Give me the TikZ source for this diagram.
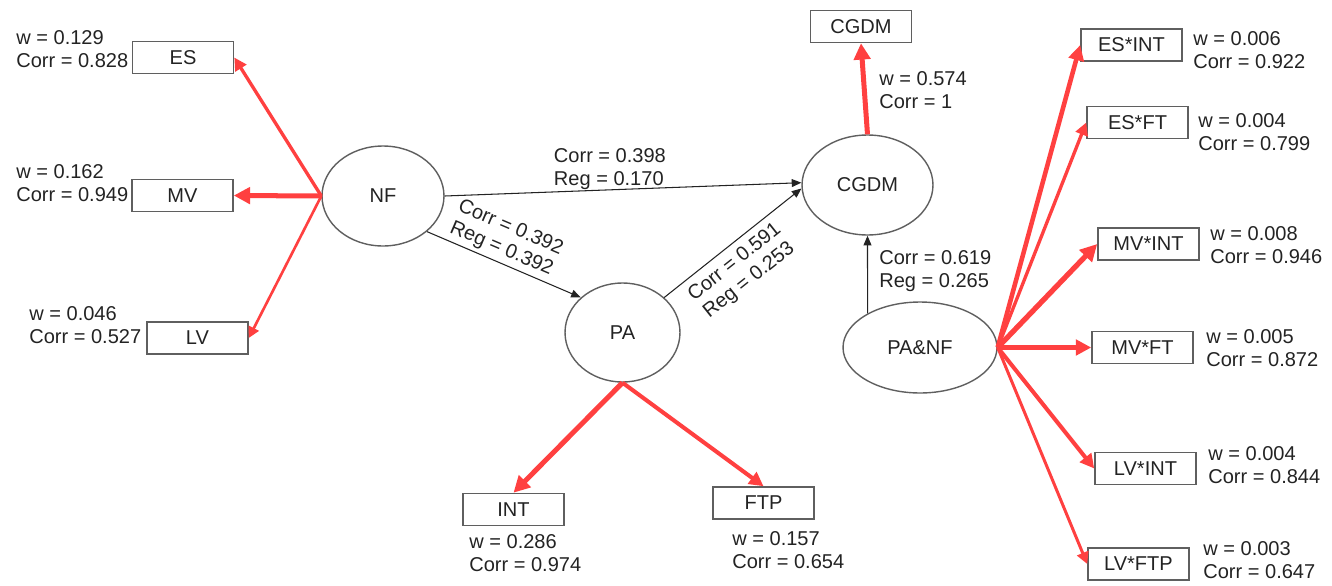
\documentclass[tikz,border=0pt]{standalone}
\usepackage{fontspec}
\setmainfont{Liberation Sans}
\usetikzlibrary{shapes.geometric,arrows.meta}
\definecolor{loadred}{RGB}{255,64,64}
\definecolor{edgegray}{RGB}{95,95,95}
\definecolor{txt}{RGB}{35,35,35}
\begin{document}
\begin{tikzpicture}[x=0.02cm,y=-0.02cm,
	every node/.style={font=\fontsize{11.4}{13.1}\selectfont, text=txt},
	lat/.style={draw=edgegray, ellipse, line width=0.8pt, inner sep=0pt},
	ind/.style={draw=edgegray, rectangle, line width=0.9pt, minimum width=2.02cm, minimum height=0.64cm, inner sep=0pt},
	lbl/.style={align=left, inner sep=0pt},
	load/.style={draw=loadred, line width=#1, -{Triangle[length=3pt 2.2,width=3pt 2.2]}},
	rel/.style={draw=txt, line width=0.6pt, -{Triangle[length=5.5pt,width=4.5pt]}}]
	\useasboundingbox (0,0) rectangle (1332,585);
	% latent variables
	\node [lat, minimum width=2.44cm, minimum height=2cm] (NF) at (383,196) {NF};
	\node [lat, minimum width=2.3cm, minimum height=1.98cm] (PA) at (622.5,332.5) {PA};
	\node [lat, minimum width=2.62cm, minimum height=2cm] (CGDM) at (867.5,185) {CGDM};
	\node [lat, minimum width=3.08cm, minimum height=1.82cm] (PANF) at (920,347.5) {PA\&NF};
	% indicators
	\node [ind] (ES) at (183,57.5) {ES};
	\node [ind] (MV) at (182.5,195.5) {MV};
	\node [ind] (LV) at (197.5,338) {LV};
	\node [ind] (INT) at (513.5,509.5) {INT};
	\node [ind] (FTP) at (763.5,503) {FTP};
	\node [ind] (CGDMbox) at (861,26.5) {CGDM};
	\node [ind] (ESINT) at (1131.5,45) {ES*INT};
	\node [ind] (ESFT) at (1137.5,122.5) {ES*FT};
	\node [ind] (MVINT) at (1148.5,244) {MV*INT};
	\node [ind] (MVFT) at (1142.5,347.5) {MV*FT};
	\node [ind] (LVINT) at (1145.5,468.5) {LV*INT};
	\node [ind] (LVFTP) at (1138.5,564) {LV*FTP};
	% weights
	\node [lbl, anchor=west] (ESlbl) at (16,49) {w = 0.129\\Corr = 0.828};
	\node [lbl, anchor=west] (MVlbl) at (16,183.5) {w = 0.162\\Corr = 0.949};
	\node [lbl, anchor=west] (LVlbl) at (29,325.5) {w = 0.046\\Corr = 0.527};
	\node [lbl, anchor=west] (INTlbl) at (469,553.5) {w = 0.286\\Corr = 0.974};
	\node [lbl, anchor=west] (FTPlbl) at (732,550) {w = 0.157\\Corr = 0.654};
	\node [lbl, anchor=west] (CGDMlbl) at (879,90.5) {w = 0.574\\Corr = 1};
	\node [lbl, anchor=west] (ESINTlbl) at (1193,50) {w = 0.006\\Corr = 0.922};
	\node [lbl, anchor=west] (ESFTlbl) at (1198,132) {w = 0.004\\Corr = 0.799};
	\node [lbl, anchor=west] (MVINTlbl) at (1210,245) {w = 0.008\\Corr = 0.946};
	\node [lbl, anchor=west] (MVFTlbl) at (1206,348.5) {w = 0.005\\Corr = 0.872};
	\node [lbl, anchor=west] (LVINTlbl) at (1208,465) {w = 0.004\\Corr = 0.844};
	\node [lbl, anchor=west] (LVFTPlbl) at (1203,560.5) {w = 0.003\\Corr = 0.647};
	\node [lbl, anchor=west] (PANFlbl) at (879,271.5) {Corr = 0.619\\Reg = 0.265};
	% loadings
	\draw [load=1.9pt] (NF.west) -- (ES.east);
	\draw [load=2.85pt] (NF.west) -- (MV.east);
	\draw [load=1.5pt] (NF.west) -- (LV.east);
	\draw [load=2.85pt] (PA.south) -- (INT.north);
	\draw [load=2.3pt] (PA.south) -- (FTP.north);
	\draw [load=2.85pt] (CGDM.north) -- (CGDMbox.south);
	\draw [load=2.6pt] (PANF.east) -- (ESINT.west);
	\draw [load=1.9pt] (PANF.east) -- (ESFT.west);
	\draw [load=3pt] (PANF.east) -- (MVINT.west);
	\draw [load=2.6pt] (PANF.east) -- (MVFT.west);
	\draw [load=2.3pt] (PANF.east) -- (LVINT.west);
	\draw [load=1.7pt] (PANF.east) -- (LVFTP.west);
	% paths
	\draw [rel] (NF.east) -- node [lbl, anchor=south west, pos=0.3, inner sep=1pt] {Corr = 0.398\\Reg = 0.170} (CGDM.178);
	\draw [rel] (NF.-39) -- node [sloped, above, pos=0.45, align=center, inner sep=2pt] {Corr = 0.392\\Reg = 0.392} (PA.140);
	\draw [rel] (PA.40) -- node [sloped, below, pos=0.44, align=center, inner sep=4pt] {Corr = 0.591\\Reg = 0.253} (CGDM.183);
	\draw [rel] (PANF.147) -- (CGDM.south);
\end{tikzpicture}
\end{document}
